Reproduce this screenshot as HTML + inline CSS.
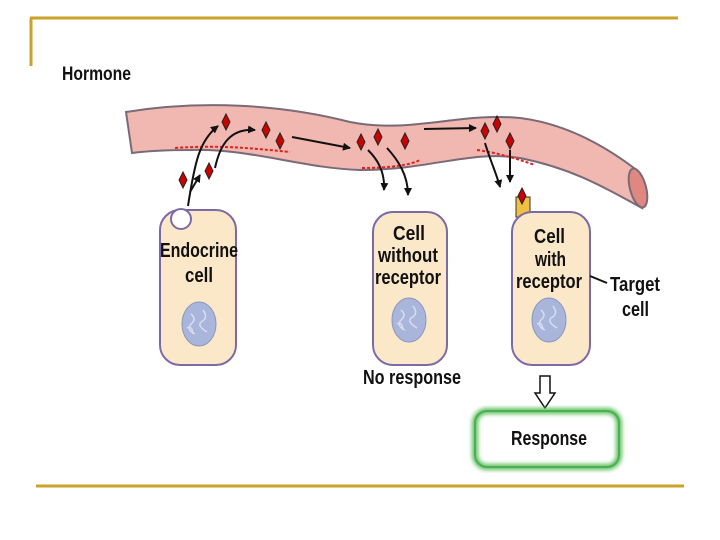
<!DOCTYPE html>
<html><head><style>body{margin:0;background:#fff}svg{display:block}text{font-family:"Liberation Sans",sans-serif;font-weight:bold;fill:#111}</style></head><body>
<svg width="720" height="540" viewBox="0 0 720 540" xmlns="http://www.w3.org/2000/svg">
<defs>
<marker id="ah" markerWidth="8" markerHeight="8" refX="7" refY="4" orient="auto" markerUnits="userSpaceOnUse"><path d="M0,0 L8,4 L0,8 z" fill="#111"/></marker>
<g id="dm"><path d="M0,-8 L4,0 L0,8 L-4,0 z" fill="#c00" stroke="#222" stroke-width="1"/></g>
<g id="nuc"><ellipse rx="17" ry="22" fill="#a9b5da" stroke="#8a96c0"/><path d="M-8,-10 q6,5 0,10 q-5,6 4,10 M4,-14 q6,8 -2,12 q-4,4 6,10 M-12,4 q5,-3 6,6" stroke="#d8def0" fill="none" stroke-width="1.5"/></g>
<filter id="gl"><feGaussianBlur stdDeviation="2"/></filter>
</defs>
<g stroke="#c9a227" stroke-width="3" fill="none"><path d="M30,18 H678"/><path d="M31,18 V66"/><path d="M36,486 H684"/></g>
<text x="62" y="80" font-size="19" textLength="69" lengthAdjust="spacingAndGlyphs">Hormone</text>
<path d="M126,112 C200,100 280,104 350,122 C410,134 460,112 520,118 C570,124 610,150 634,168 L642,208 C600,185 570,168 520,158 C470,150 430,170 360,170 C300,168 250,148 190,150 C160,150 140,152 132,153 Z" fill="#f0b8b0" stroke="#7a6a78" stroke-width="2"/>
<ellipse cx="638" cy="188" rx="8" ry="20" transform="rotate(-15 638 188)" fill="#e08880" stroke="#7a6a78" stroke-width="2"/>
<g stroke="#e02020" stroke-width="2" stroke-dasharray="3,2" fill="none">
<path d="M175,148 C220,145 250,148 290,152"/><path d="M362,168 C390,168 410,165 420,160"/><path d="M477,150 C500,153 520,160 535,165"/></g>
<g stroke="#111" stroke-width="2" fill="none" marker-end="url(#ah)">
<path d="M188,206 C195,160 200,140 218,126"/>
<path d="M190,192 L200,175"/>
<path d="M215,168 C220,145 230,128 255,130"/>
<path d="M292,137 L350,148"/>
<path d="M368,150 C378,160 385,172 384,190"/>
<path d="M387,148 C398,160 408,175 408,195"/>
<path d="M424,129 L476,128"/>
<path d="M485,143 C490,160 497,175 500,187"/>
<path d="M510,150 L510,182"/>
</g>
<use href="#dm" x="226" y="122"/><use href="#dm" x="266" y="130"/><use href="#dm" x="280" y="141"/>
<use href="#dm" x="183" y="180"/><use href="#dm" x="209" y="171"/>
<use href="#dm" x="361" y="142"/><use href="#dm" x="378" y="137"/><use href="#dm" x="405" y="141"/>
<use href="#dm" x="485" y="131"/><use href="#dm" x="497" y="124"/><use href="#dm" x="510" y="141"/>
<rect x="160" y="210" width="76" height="155" rx="20" fill="#fbe8c8" stroke="#7c6aa8" stroke-width="2"/>
<circle cx="181" cy="219" r="10" fill="#fff" stroke="#7c6aa8" stroke-width="2"/>
<rect x="373" y="212" width="74" height="153" rx="20" fill="#fbe8c8" stroke="#7c6aa8" stroke-width="2"/>
<rect x="516" y="197" width="14" height="20" fill="#f2c040" stroke="#333"/>
<use href="#dm" x="522" y="196"/>
<rect x="512" y="212" width="78" height="153" rx="20" fill="#fbe8c8" stroke="#7c6aa8" stroke-width="2"/>
<use href="#nuc" x="199" y="324"/><use href="#nuc" x="409" y="320"/><use href="#nuc" x="549" y="320"/>
<g font-size="20" lengthAdjust="spacingAndGlyphs">
<text x="160" y="257" textLength="78" lengthAdjust="spacingAndGlyphs">Endocrine</text>
<text x="185" y="282" textLength="28" lengthAdjust="spacingAndGlyphs">cell</text>
<text x="393" y="240" textLength="32" lengthAdjust="spacingAndGlyphs">Cell</text>
<text x="378" y="262" textLength="60" lengthAdjust="spacingAndGlyphs">without</text>
<text x="375" y="284" textLength="66" lengthAdjust="spacingAndGlyphs">receptor</text>
<text x="534" y="243" textLength="31" lengthAdjust="spacingAndGlyphs">Cell</text>
<text x="535" y="266" textLength="31" lengthAdjust="spacingAndGlyphs">with</text>
<text x="516" y="288" textLength="66" lengthAdjust="spacingAndGlyphs">receptor</text>
<text x="610" y="291" textLength="50" lengthAdjust="spacingAndGlyphs">Target</text>
<text x="622" y="316" textLength="27" lengthAdjust="spacingAndGlyphs">cell</text>
<text x="363" y="384" textLength="98" lengthAdjust="spacingAndGlyphs">No response</text>
<text x="511" y="445" textLength="76" lengthAdjust="spacingAndGlyphs">Response</text>
</g>
<path d="M590,276 L607,283" stroke="#111" stroke-width="2"/>
<path d="M540,376 H550 V393 H555 L545,408 L535,393 H540 Z" fill="#fff" stroke="#111" stroke-width="1.5"/>
<rect x="475" y="411" width="144" height="56" rx="12" fill="none" stroke="#5fc060" stroke-width="6" filter="url(#gl)"/>
<rect x="475" y="411" width="144" height="56" rx="12" fill="none" stroke="#4cb050" stroke-width="2"/>
</svg>
</body></html>
